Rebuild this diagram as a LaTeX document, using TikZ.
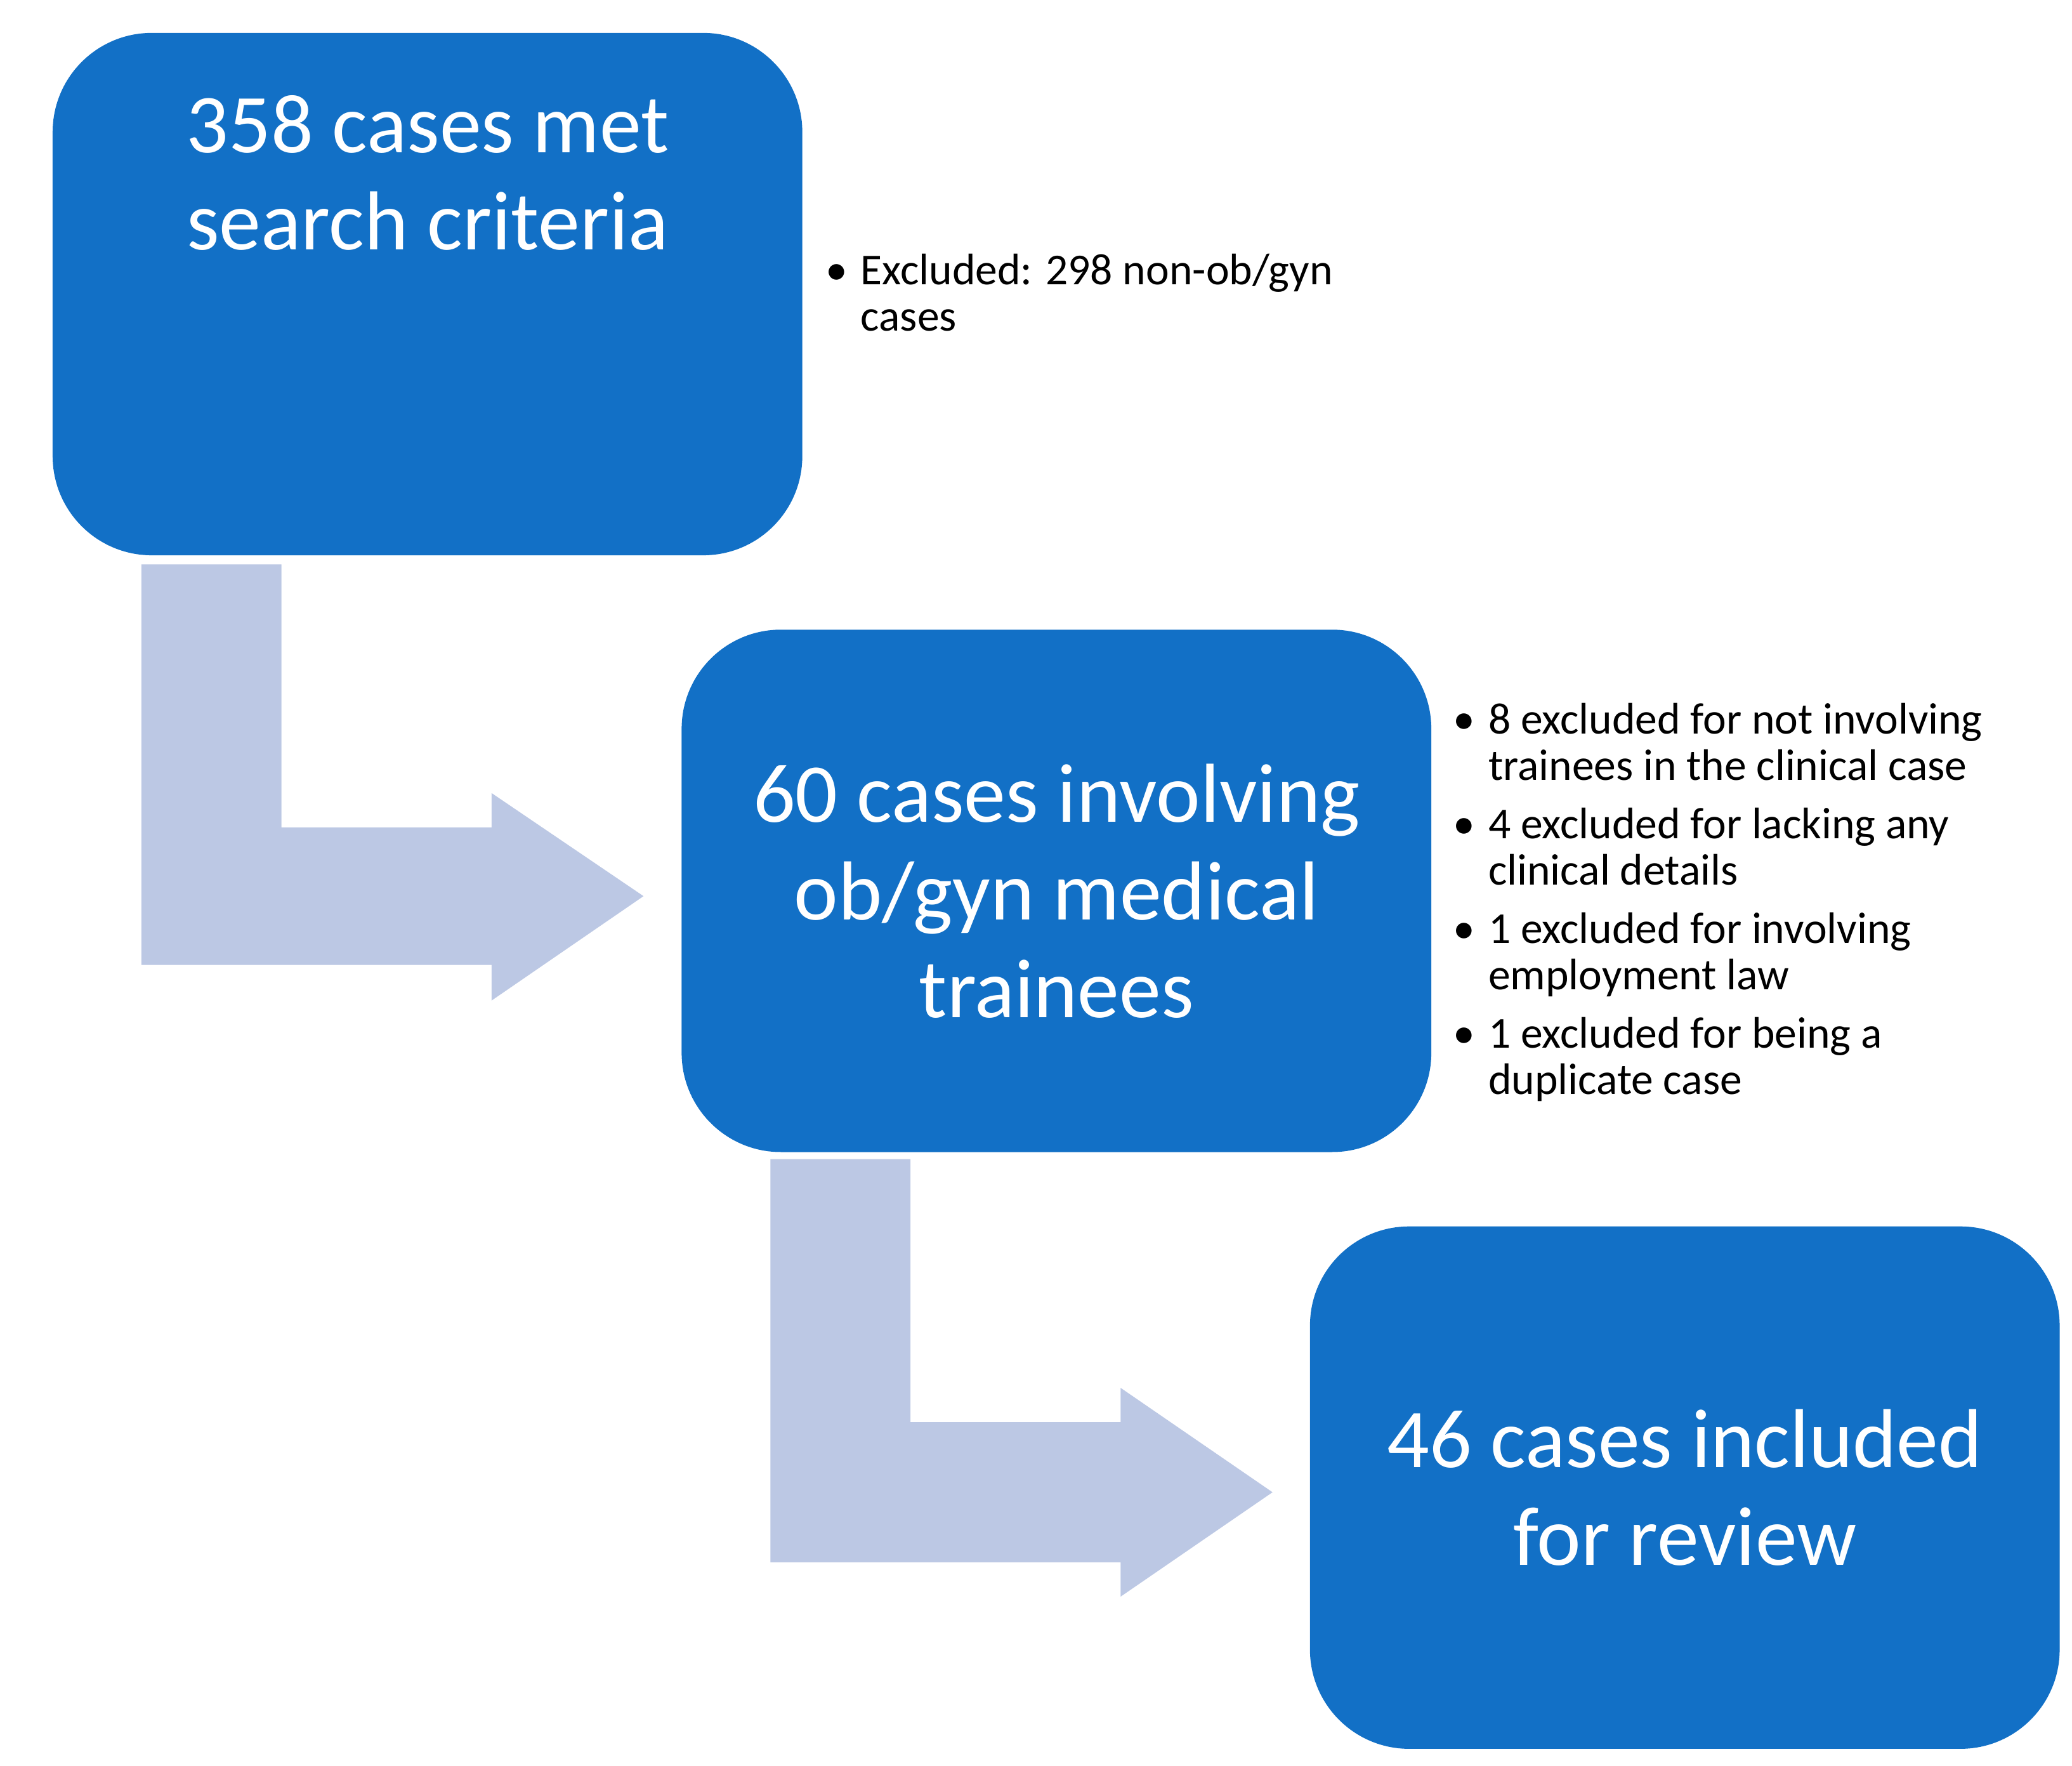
\documentclass[tikz,border=0pt]{standalone}
\usepackage{fontspec}
\setmainfont{Carlito}
\usetikzlibrary{positioning, calc}
\definecolor{boxblue}{HTML}{1270C6}
\definecolor{arrowblue}{HTML}{BCC8E4}

\begin{document}
\begin{tikzpicture}[
    x=0.01cm, y=-0.01cm,
    stage/.style={rectangle, rounded corners=0.75cm, fill=boxblue, text=white,
                  minimum width=5.67cm, minimum height=3.95cm, align=center,
                  font=\fontsize{18}{21}\selectfont},
    note/.style={anchor=north west, inner sep=0pt, align=left,
                 font=\fontsize{9.5}{10}\selectfont},
    bentarrow/.style={fill=arrowblue}
]
\useasboundingbox (0,0) rectangle (1568,1336);

% --- Stages ---
\node[stage] (search) at (323.5,222.5) {358 cases met\\search criteria\\[1.1cm]};
\node[stage] (trainees) at (799.5,674) {60 cases involving\\ob/gyn medical\\trainees};
\node[stage] (review) at (1275,1125.5) {46 cases included\\for review};

% --- Bent arrows ---
\fill[bentarrow] (107,427) -- (213,427) -- (213,626) -- (372,626) -- (372,600)
  -- (487,678) -- (372,757) -- (372,730) -- (107,730) -- cycle;
\fill[bentarrow] (583,877) -- (689,877) -- (689,1076) -- (848,1076) -- (848,1050)
  -- (963,1129) -- (848,1208) -- (848,1182) -- (583,1182) -- cycle;

% --- Exclusion notes ---
\node[note] (excl1) at (624,190) {\begin{tabular}{@{}l@{\hspace{0.1cm}}l@{}}
  \textbullet & Excluded: 298 non-ob/gyn\\ & cases\end{tabular}};
\node[note] (excl2) at (1099,530) {\begin{tabular}{@{}l@{\hspace{0.1cm}}l@{}}
  \textbullet & 8 excluded for not involving\\ & trainees in the clinical case\\[2.5pt]
  \textbullet & 4 excluded for lacking any\\ & clinical details\\[2.5pt]
  \textbullet & 1 excluded for involving\\ & employment law\\[2.5pt]
  \textbullet & 1 excluded for being a\\ & duplicate case\end{tabular}};

\end{tikzpicture}
\end{document}
